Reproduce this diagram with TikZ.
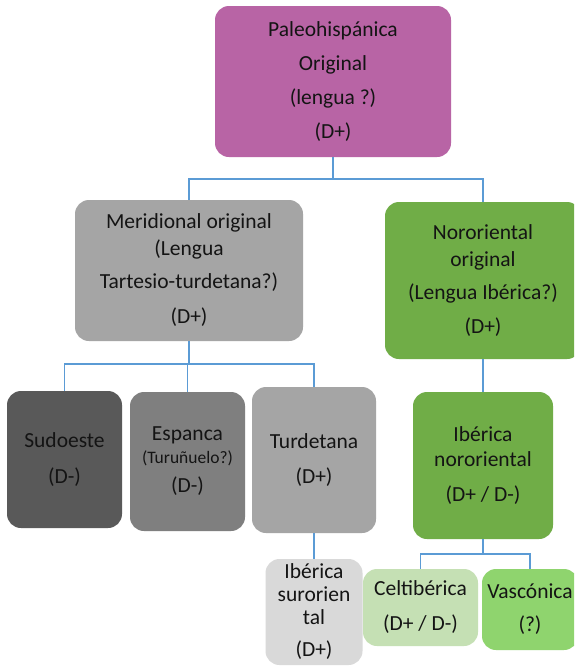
\documentclass[tikz,border=0pt]{standalone}
\usepackage{fontspec}
\setmainfont{Carlito}
\usetikzlibrary{calc}
\definecolor{cpink}{HTML}{B864A5}
\definecolor{cgray}{HTML}{A5A5A5}
\definecolor{cdark}{HTML}{595959}
\definecolor{cmid}{HTML}{7F7F7F}
\definecolor{clight}{HTML}{D9D9D9}
\definecolor{cgreen}{HTML}{70AD47}
\definecolor{cpale}{HTML}{C5E0B4}
\definecolor{cvas}{HTML}{8FD46E}
\definecolor{cline}{HTML}{5B9BD5}
\definecolor{ctext}{HTML}{141414}
\tikzset{
  box/.style={rounded corners=14pt, inner sep=0pt, align=center, text=ctext,
    font=\fontsize{21.5}{27}\selectfont},
  conn/.style={draw=cline, line width=1.2pt},
}
\begin{document}
\begin{tikzpicture}[x=1pt,y=-1pt]
\clip (0,0) rectangle (574,667);
\fill[white] (0,0) rectangle (574,667);
% boxes
\node[box, fill=cpink, minimum width=236pt, minimum height=151pt,
  font=\fontsize{21.5}{34}\selectfont] (top) at (333,81.5)
  {Paleohisp\'anica\\Original\\(lengua ?)\\(D+)};
\node[box, fill=cgray, minimum width=228pt, minimum height=141pt] (mer) at (189,270.5)
  {Meridional original\\(Lengua\\[6pt]Tartesio-turdetana?)\\[8pt](D+)};
\node[box, fill=cgreen, minimum width=196pt, minimum height=157pt] (nor) at (483,280.5)
  {Nororiental\\original\\[6pt](Lengua Ib\'erica?)\\[7pt](D+)};
\node[box, fill=cdark, minimum width=115pt, minimum height=137pt,
  font=\fontsize{21.5}{36}\selectfont] (sud) at (64.5,459.5)
  {Sudoeste\\(D-)};
\node[box, fill=cmid, minimum width=115pt, minimum height=139pt] (esp) at (187.5,461.5)
  {Espanca\\[-4pt]{\fontsize{17.5}{21}\selectfont(Turu\~nuelo?)}\\[2pt](D-)};
\node[box, fill=cgray, minimum width=124pt, minimum height=146pt,
  font=\fontsize{21.5}{35}\selectfont] (tur) at (314,460)
  {Turdetana\\(D+)};
\node[box, fill=cgreen, minimum width=140pt, minimum height=147pt,
  font=\fontsize{21.5}{25}\selectfont] (ibn) at (483,465.5)
  {Ib\'erica\\nororiental\\[10pt](D+ / D-)};
\node[box, fill=clight, minimum width=97pt, minimum height=106pt,
  font=\fontsize{21.5}{23}\selectfont] (ibs) at (314,612)
  {Ib\'erica\\surorien\\tal\\[9pt](D+)};
\node[box, fill=cpale, minimum width=115pt, minimum height=77pt,
  font=\fontsize{21.5}{35}\selectfont] (cel) at (420.5,607.5)
  {Celtib\'erica\\(D+ / D-)};
\node[box, fill=cvas, minimum width=96pt, minimum height=81pt,
  font=\fontsize{21.5}{33}\selectfont] (vas) at (530,609.5)
  {Vasc\'onica\\(?)};
% junctions
\coordinate (j1) at (333,179);
\coordinate (j2) at (189,364);
\coordinate (j3) at (483,554);
% connectors
\draw[conn] (top.south) -- (j1);
\draw[conn] (j1) -| (mer.north);
\draw[conn] (j1) -| (nor.north);
\draw[conn] (mer.south) -- (j2);
\draw[conn] (j2) -| (sud.north);
\draw[conn] (j2) -| (esp.north);
\draw[conn] (j2) -| (tur.north);
\draw[conn] (tur.south) -- (ibs.north);
\draw[conn] (nor.south) -- (ibn.north);
\draw[conn] (ibn.south) -- (j3);
\draw[conn] (j3) -| (cel.north);
\draw[conn] (j3) -| (vas.north);
\end{tikzpicture}
\end{document}
